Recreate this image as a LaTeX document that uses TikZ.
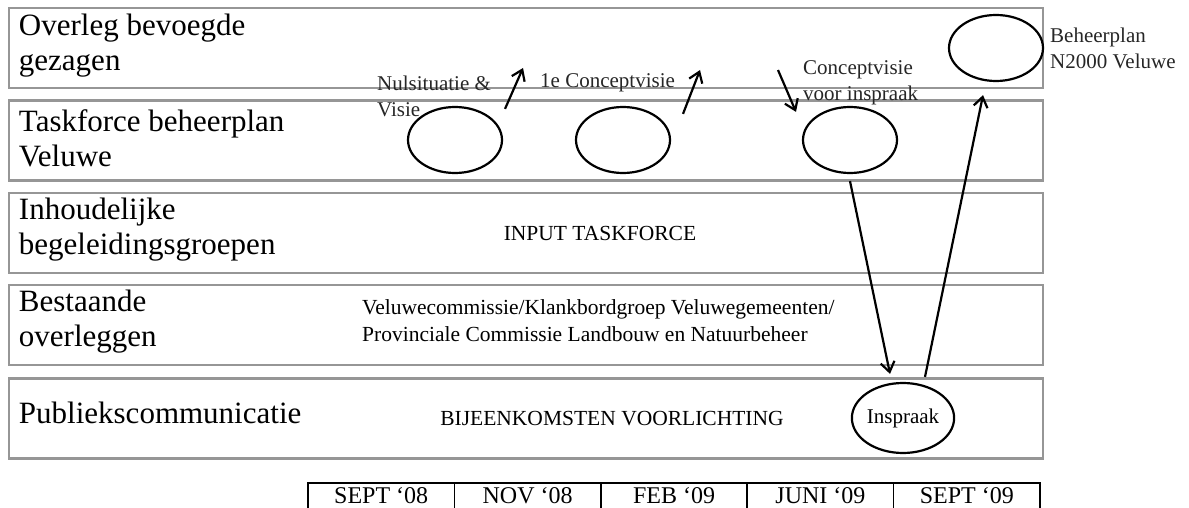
\documentclass[tikz,border=0pt]{standalone}
\usepackage{fontspec}
\setmainfont{Liberation Serif}
\usetikzlibrary{shapes,arrows.meta}
\definecolor{lanegray}{RGB}{150,150,150}

\begin{document}
\begin{tikzpicture}[x=1pt,y=-1pt,
  lane/.style={rectangle, draw=lanegray, line width=2.5pt, minimum width=1034pt, minimum height=80pt},
  lanename/.style={anchor=west, align=left, inner sep=0pt, font=\fontsize{31}{35}\selectfont},
  phase/.style={ellipse, draw=black, line width=2.2pt, minimum width=94pt, minimum height=66pt, inner sep=0pt},
  note/.style={anchor=west, align=left, inner sep=0pt, text=black!85, font=\fontsize{21}{26}\selectfont},
  mid/.style={align=left, inner sep=0pt, font=\fontsize{21.5}{27}\selectfont},
  cell/.style={rectangle, draw=black, line width=1.5pt, minimum width=146.4pt, minimum height=30pt, text height=17pt, text depth=6pt, anchor=north, font=\fontsize{24}{28}\selectfont},
  flow/.style={->, line width=2.2pt},
  >={Straight Barb[length=10pt,width=14pt]}]
\useasboundingbox (0,0) rectangle (1189,508);

\node[lane] (1) at (526,48) {};
\node[lane] (2) at (526,140.5) {};
\node[lane] (3) at (526,233) {};
\node[lane] (4) at (526,325) {};
\node[lane] (5) at (526,418.5) {};

\node[lanename] (6) at ([xshift=11pt,yshift=2pt]1.west) {Overleg bevoegde\\gezagen};
\node[lanename] (7) at ([xshift=11pt,yshift=2pt]2.west) {Taskforce beheerplan\\Veluwe};
\node[lanename] (8) at ([xshift=11pt,yshift=3pt]3.west) {Inhoudelijke\\begeleidingsgroepen};
\node[lanename] (9) at ([xshift=11pt,yshift=3pt]4.west) {Bestaande\\overleggen};
\node[lanename] (10) at ([xshift=11pt,yshift=6pt]5.west) {Publiekscommunicatie};

\node[phase] (11) at (455,140) {};
\node[phase] (12) at (623,140) {};
\node[phase] (13) at (850,140) {};
\node[phase] (14) at (996,48) {};
\node[phase, minimum height=70pt, font=\fontsize{21}{25}\selectfont] (15) at (903,418) {Inspraak};

\node[note] (16) at (377,96) {Nulsituatie \&\\Visie};
\node[note] (17) at (540,83) {1e Conceptvisie};
\node[note] (18) at (803,83) {Conceptvisie\\voor inspraak};
\node[note] (19) at (1050,48) {Beheerplan\\N2000 Veluwe};

\node[mid] (20) at (600,233) {INPUT TASKFORCE};
\node[mid, anchor=west] (21) at (362,321) {Veluwecommissie/Klankbordgroep Veluwegemeenten/\\Provinciale Commissie Landbouw en Natuurbeheer};
\node[mid] (22) at (612,419) {BIJEENKOMSTEN VOORLICHTING};

% tijdlijn
\node[cell] (23) at (381.2,482) {SEPT ‘08};
\node[cell] (24) at (527.6,482) {NOV ‘08};
\node[cell] (25) at (674,482) {FEB ‘09};
\node[cell] (26) at (820.4,482) {JUNI ‘09};
\node[cell] (27) at (966.8,482) {SEPT ‘09};

\coordinate (up1) at (523,68);
\coordinate (up2) at (700,70);
\coordinate (down1) at (778,70);

\draw[flow] ([xshift=16pt,yshift=7pt]11.north east) -- (up1);
\draw[flow] ([xshift=26pt,yshift=2pt]12.north east) -- (up2);
\draw[flow] (down1) -- ([xshift=-20pt,yshift=4pt]13.north west);
\draw[flow] ([yshift=-7pt]13.south) -- ([xshift=-13pt,yshift=8pt]15.north);
\draw[flow] ([xshift=22pt,yshift=5pt]15.north) -- ([xshift=-13pt,yshift=-13pt]14.south);
\end{tikzpicture}
\end{document}
